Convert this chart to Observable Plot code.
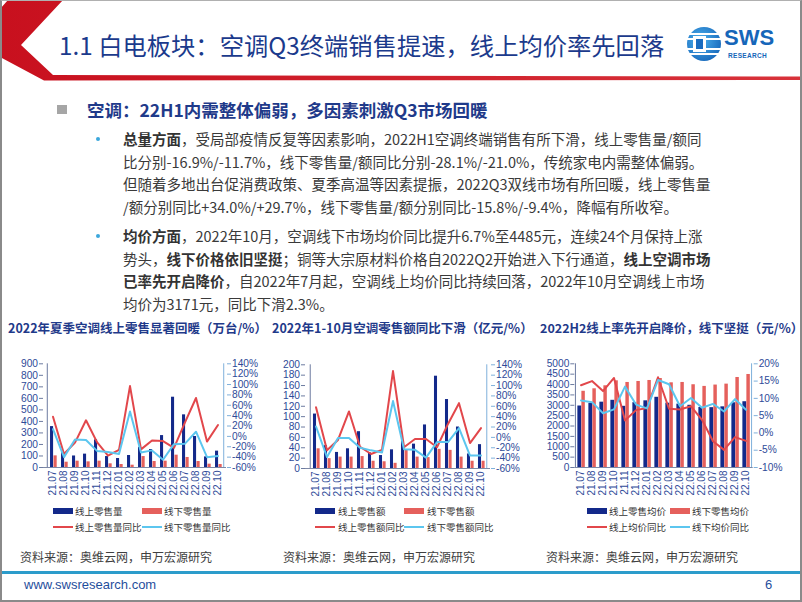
<!DOCTYPE html>
<html><head><meta charset="utf-8">
<script src="https://cdn.jsdelivr.net/npm/d3@7"></script>
<script src="https://cdn.jsdelivr.net/npm/@observablehq/plot@0.6"></script>
<style>
html,body{margin:0;padding:0;background:#fff;}
#slide{position:relative;width:802px;height:602px;overflow:hidden;background:#fff;font-family:"Noto Sans CJK SC","Noto Sans",sans-serif;}
.abs{position:absolute;white-space:nowrap;}
.body{font-size:14.5px;line-height:20px;color:#3a3a3a;}
.body b{font-weight:700;color:#333;}
.ctitle{font-size:12.5px;line-height:16px;font-weight:700;color:#1f3a8a;}
.leg{font-size:9.5px;line-height:12px;color:#333;}
.src{font-size:12px;line-height:16px;color:#404040;}
.sw{position:absolute;}
</style></head>
<body><div id="slide"></div>
<script>
// ---------- data ----------
const months = ["21.07","21.08","21.09","21.10","21.11","21.12","22.01","22.02","22.03","22.04","22.05","22.06","22.07","22.08","22.09","22.10"];
// Chart 1: retail volume (万台) and YoY (%)
const volOnline      = [355,130,100,116,240,95,78,104,175,156,277,610,457,269,92,142];
const volOffline     = [101,46,55,49,55,32,26,20,95,52,55,107,87,52,29,26];
const volOnlineYoY   = [38,-34,-12,31,-11,-37,-26,97,-25,-8,-9,-22,27,74,-10,22];
const volOfflineYoY  = [14,-40,-6,-7,-28,-30,-34,48,-31,-27,-45,-15,-14,9,-40,-38];
// Chart 2: retail amount (亿元) and YoY (%)
const amtOnline      = [105,44,31,38,71,30,25,36,53,47,84,178,133,80,28,46];
const amtOffline     = [38,19,22,22,23,14,13,10,35,22,21,37,35,22,14,14];
const amtOnlineYoY   = [58,-25,-5,50,-18,-32,-24,128,-19,-3,-3,-19,26,66,-11,18];
const amtOfflineYoY  = [21,-38,-1,-1,-20,-25,-29,70,-23,-24,-39,-9,-9,18,-35,-35];
// Chart 3: average price (元) and YoY (%)
const priceOnline    = [2965,3085,3150,3240,2950,3125,3215,3385,3100,3055,3000,2895,2885,2925,3120,3171];
const priceOffline   = [3675,3795,3940,4180,4100,4148,4196,4290,4084,4100,3990,3910,3975,4020,4340,4485];
const priceOnlineYoY = [13.8,15.0,12.1,15.9,3.6,6.6,7.2,16.1,7.0,6.8,7.7,3.8,-2.4,-4.9,-1.2,-2.3];
const priceOfflineYoY= [9.4,8.9,5.7,6.8,13.4,8.2,7.1,15.3,14.1,7.7,10.1,7.3,8.4,6.2,9.8,6.7];

const chartTitles = ["2022年夏季空调线上零售显著回暖（万台/%）","2022年1-10月空调零售额同比下滑（亿元/%）","2022H2线上率先开启降价，线下坚挺（元/%）"];
const legends = [
  ["线上零售量","线下零售量","线上零售量同比","线下零售量同比"],
  ["线上零售额","线下零售额","线上零售额同比","线下零售额同比"],
  ["线上零售均价","线下零售均价","线上均价同比","线下均价同比"]
];
const sourceText = "资料来源：奥维云网，申万宏源研究";

const BLUE = "#13298a", REDBAR = "#e5605c", REDLINE = "#e2474b", CYAN = "#5cc6ef";
const TICK = "#2e4a98";

const slide = document.getElementById("slide");
function add(html, cls, left, top, extra){
  const d = document.createElement("div");
  d.className = "abs " + (cls||"");
  d.style.left = left + "px"; d.style.top = top + "px";
  if (extra) Object.assign(d.style, extra);
  d.innerHTML = html;
  slide.appendChild(d);
  return d;
}

// ---------- header ----------
const hdr = document.createElementNS("http://www.w3.org/2000/svg","svg");
hdr.setAttribute("width","802"); hdr.setAttribute("height","90");
hdr.style.position="absolute"; hdr.style.left="0"; hdr.style.top="0";
hdr.innerHTML = `
<defs>
 <linearGradient id="lg" x1="0" x2="1"><stop offset="0" stop-color="#c8101e"/><stop offset="1" stop-color="#d8323a"/></linearGradient>
 <radialGradient id="eg" cx="0.4" cy="0.4" r="0.7"><stop offset="0" stop-color="#4fb3ef"/><stop offset="1" stop-color="#1464b8"/></radialGradient>
</defs>
<polygon points="8,0 63,0 21,45 53,75 802,76.5 802,80 44,80.5 0,57 0,9" fill="url(#lg)"/>
<g>
 <circle cx="704" cy="44" r="17" fill="url(#eg)"/>
 <rect x="687" y="33" width="34" height="2" fill="#fff"/>
 <rect x="687" y="38" width="34" height="2" fill="#fff"/>
 <rect x="687" y="48" width="34" height="2" fill="#fff"/>
 <rect x="687" y="53" width="34" height="2" fill="#fff"/>
 <rect x="693" y="36" width="13" height="16" fill="#fff"/>
 <rect x="696" y="39" width="7" height="10" fill="#1a6cc0"/>
 <text x="724" y="45" font-family="Liberation Sans, Arial" font-weight="700" font-size="22" fill="#1666b9">SWS</text>
 <text x="728" y="58" font-family="Liberation Sans, Arial" font-weight="700" font-size="6.5" fill="#1666b9" letter-spacing="0.3">RESEARCH</text>
</g>`;
slide.appendChild(hdr);
add("1.1 白电板块：空调Q3终端销售提速，线上均价率先回落","",59,29,{fontSize:"24.3px",lineHeight:"32px",color:"#1b3a8c"});

// ---------- body text ----------
add("","",57,105,{width:"10px",height:"9px",background:"#a6a6a6"});
add("空调：22H1内需整体偏弱，多因素刺激Q3市场回暖","",87,98,{fontSize:"17.5px",lineHeight:"24px",fontWeight:"700",color:"#1f3a8a"});
add("","",96,137,{width:"4px",height:"4px",borderRadius:"2px",background:"#3ba7dc"});
add("","",96,234,{width:"4px",height:"4px",borderRadius:"2px",background:"#3ba7dc"});
const para1 = [
 "<b>总量方面</b>，受局部疫情反复等因素影响，2022H1空调终端销售有所下滑，线上零售量/额同",
 "比分别-16.9%/-11.7%，线下零售量/额同比分别-28.1%/-21.0%，传统家电内需整体偏弱。",
 "但随着多地出台促消费政策、夏季高温等因素提振，2022Q3双线市场有所回暖，线上零售量",
 "/额分别同比+34.0%/+29.7%，线下零售量/额分别同比-15.8%/-9.4%，降幅有所收窄。"
];
const para2 = [
 "<b>均价方面</b>，2022年10月，空调线下市场均价同比提升6.7%至4485元，连续24个月保持上涨",
 "势头，<b>线下价格依旧坚挺</b>；铜等大宗原材料价格自2022Q2开始进入下行通道，<b>线上空调市场</b>",
 "<b>已率先开启降价</b>，自2022年7月起，空调线上均价同比持续回落，2022年10月空调线上市场",
 "均价为3171元，同比下滑2.3%。"
];
para1.forEach((t,i)=>add(t,"body",123,129+i*22.5));
para2.forEach((t,i)=>add(t,"body",123,226+i*22.5));

// ---------- charts ----------
function makeChart(o){
  const rows = months.map((m,i)=>({m, a:o.a[i], b:o.b[i], c:o.c[i], d:o.d[i]}));
  const {yMax, yStep, pMin, pMax, pStep, width, height, ml, mr, mt, mb} = o;
  const toL = p => (p - pMin) / (pMax - pMin) * yMax;
  const fromL = v => v / yMax * (pMax - pMin) + pMin;
  const bw = (width - ml - mr) / months.length;
  const leftTicks = d3.range(0, yMax + 1e-9, yStep);
  const rightTicks = d3.range(pMin, pMax + 1e-9, pStep).map(toL);
  return Plot.plot({
    width, height, marginLeft: ml, marginRight: mr, marginTop: mt, marginBottom: mb,
    style: {fontFamily: "Liberation Sans, Arial, sans-serif", fontSize: "9.6px", color: TICK, background: "transparent", overflow: "visible"},
    x: {type: "band", domain: months, padding: 0, axis: null, label: null},
    y: {domain: [0, yMax], axis: null, label: null},
    marks: [
      Plot.barY(rows, {x: "m", y: "a", fill: BLUE, insetLeft: bw/2 - o.bl, insetRight: bw/2 - 0.8}),
      Plot.barY(rows, {x: "m", y: "b", fill: REDBAR, insetLeft: bw/2 + 0.8, insetRight: bw/2 - o.br}),
      Plot.ruleY([0], {stroke: "#7d88a6"}),
      Plot.ruleX([months[0]], {dx: -bw/2, y1: 0, y2: yMax, stroke: "#6d7ba0"}),
      Plot.ruleX([months[months.length-1]], {dx: bw/2, y1: 0, y2: yMax, stroke: "#7fb0db"}),
      Plot.axisY({ticks: leftTicks, tickFormat: d => String(Math.round(d)), anchor: "left", label: null, tickSize: 4, tickPadding: 1.5, stroke: "#6d7ba0", fill: TICK, fontSize: 10.2}),
      Plot.axisY({ticks: rightTicks, tickFormat: d => Math.round(fromL(d)) + "%", anchor: "right", label: null, tickSize: 4, tickPadding: 1.5, stroke: "#7fb0db", fill: TICK, fontSize: 10.2}),
      Plot.axisX({tickRotate: -90, tickSize: 0, tickPadding: 3, label: null, fill: TICK, fontSize: 10}),
      Plot.lineY(rows, {x: "m", y: d => toL(d.c), stroke: REDLINE, strokeWidth: 2}),
      Plot.lineY(rows, {x: "m", y: d => toL(d.d), stroke: CYAN, strokeWidth: 2})
    ]
  });
}
function place(el, left, top){ el.style.position="absolute"; el.style.left=left+"px"; el.style.top=top+"px"; slide.appendChild(el); }

place(makeChart({a:volOnline,b:volOffline,c:volOnlineYoY,d:volOfflineYoY,yMax:900,yStep:100,pMin:-60,pMax:140,pStep:20,
  width:262,height:150,ml:38,mr:41,mt:10.3,mb:36,bl:2.7,br:4.4}), 5, 353);
place(makeChart({a:amtOnline,b:amtOffline,c:amtOnlineYoY,d:amtOfflineYoY,yMax:200,yStep:20,pMin:-60,pMax:140,pStep:20,
  width:262,height:150,ml:35,mr:42,mt:10.3,mb:36,bl:2.8,br:4.4}), 270, 354);
place(makeChart({a:priceOnline,b:priceOffline,c:priceOnlineYoY,d:priceOfflineYoY,yMax:5000,yStep:500,pMin:-10,pMax:20,pStep:5,
  width:265,height:150,ml:44.3,mr:42.3,mt:10.3,mb:36,bl:3.2,br:4.4}), 530, 353);

// chart titles
add(chartTitles[0],"ctitle",8,320);
add(chartTitles[1],"ctitle",272,320);
add(chartTitles[2],"ctitle",540,320);

// legends
const legPos = [
  {x1:53, t1:75, x2:142, t2:164},
  {x1:315, t1:338, x2:404, t2:427},
  {x1:587, t1:609, x2:670, t2:692}
];
legPos.forEach((p,k)=>{
  const L = legends[k];
  add("","sw",p.x1,508,{width:"20px",height:"6px",background:BLUE});
  add(L[0],"leg",p.t1,505);
  add("","sw",p.x2,508,{width:"20px",height:"6px",background:REDBAR});
  add(L[1],"leg",p.t2,505);
  add("","sw",p.x1,526,{width:"20px",height:"2px",background:REDLINE});
  add(L[2],"leg",p.t1,521);
  add("","sw",p.x2,526,{width:"20px",height:"2px",background:CYAN});
  add(L[3],"leg",p.t2,521);
});
// sources
add(sourceText,"src",20,549);
add(sourceText,"src",283,549);
add(sourceText,"src",546,549);

// ---------- footer ----------
add("","",0,571,{width:"802px",height:"2.5px",background:"#2c9ccb"});
add("www.swsresearch.com","",24,577,{fontFamily:"Liberation Sans, Arial",fontSize:"13px",lineHeight:"16px",color:"#1f4e9c"});
add("6","",765,577,{fontFamily:"Liberation Sans, Arial",fontSize:"13px",lineHeight:"16px",color:"#1f4e9c"});
// slide frame
add("","",0,0,{width:"802px",height:"602px",boxSizing:"border-box",borderLeft:"2px solid #8a8a8a",borderRight:"2px solid #8a8a8a",borderBottom:"2px solid #8a8a8a",borderTop:"1px solid #b0b0b0",pointerEvents:"none"});
</script>
</body></html>
